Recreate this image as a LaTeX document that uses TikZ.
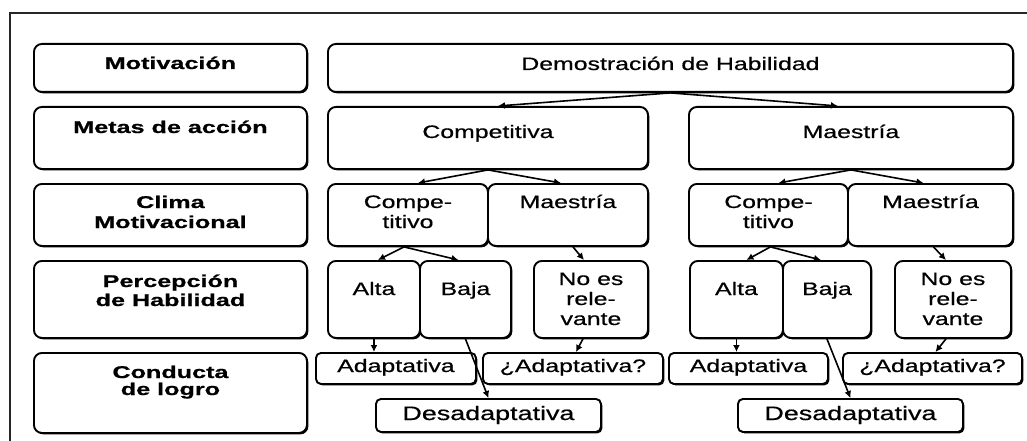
\documentclass[tikz,border=0pt]{standalone}
\usepackage{fontspec}
\setmainfont{Liberation Sans}[FakeStretch=1.38,FakeBold=0.6]
\newfontfamily\labfont{Liberation Sans}[FakeStretch=1.48,FakeBold=0.8]
\usetikzlibrary{shadows,arrows.meta}
\tikzset{
  box/.style={draw=black,fill=white,line width=1.9pt,rounded corners=8pt,inner sep=0pt,
    drop shadow={shadow xshift=1.4pt,shadow yshift=-1.4pt,opacity=1,fill=black}},
  sbox/.style={box,rounded corners=5pt},
  rt/.style={inner sep=0pt,anchor=base,font=\fontsize{18}{20}\selectfont},
  dt/.style={rt,font=\fontsize{19.5}{21}\selectfont},
  lt/.style={inner sep=0pt,anchor=base,font=\labfont\bfseries\fontsize{17}{19}\selectfont},
  arr/.style={line width=1.6pt,-{Latex[length=7pt,width=7pt]}},
  frame/.style={line width=1.8pt,draw=black!85}
}
\newcommand\bx[6]{\node[#6,anchor=north west,minimum width=#4pt-#2pt,minimum height=#5pt-#3pt] (#1) at (#2,#3) {};}
\begin{document}
\begin{tikzpicture}[x=1pt,y=-1pt]
\useasboundingbox (0,0) rectangle (1027,441);
\coordinate (f1) at (10,441);
\coordinate (f2) at (10,13);
\coordinate (f3) at (1030,13);
\draw[frame] (f1) -- (f2) -- (f3);
% row 1
\bx{mot}{33}{43}{306}{91}{box}
\bx{dem}{327}{43}{1012}{91}{box}
% row 2
\bx{met}{33}{106}{306}{168}{box}
\bx{comp}{327}{106}{647}{168}{box}
\bx{maes}{688}{106}{1012}{168}{box}
% row 3
\bx{cli}{33}{183}{306}{245}{box}
\bx{c1}{327}{183}{487}{245}{box}
\bx{m1}{487}{183}{647}{245}{box}
\bx{c2}{688}{183}{847}{245}{box}
\bx{m2}{847}{183}{1012}{245}{box}
% row 4
\bx{per}{33}{260}{306}{337}{box}
\bx{a1}{327}{260}{419}{337}{box}
\bx{b1}{419}{260}{510}{337}{box}
\bx{n1}{533}{260}{647}{337}{box}
\bx{a2}{689}{260}{782}{337}{box}
\bx{b2}{782}{260}{870}{337}{box}
\bx{n2}{894}{260}{1010}{337}{box}
% row 5
\bx{con}{33}{352}{306}{432}{box}
\bx{ad1}{315}{352}{475}{383}{sbox}
\bx{q1}{482}{352}{662}{383}{sbox}
\bx{ad2}{668}{352}{827}{383}{sbox}
\bx{q2}{842}{352}{1021}{383}{sbox}
\bx{d1}{375}{398}{600}{431}{sbox}
\bx{d2}{737}{398}{962}{431}{sbox}
% texts
\node[lt] (tmot) at (mot.center |- 0,69) {Motivación};
\node[rt] (tdem) at (dem.center |- 0,70) {Demostración de Habilidad};
\node[lt] (tmet) at (met.center |- 0,133) {Metas de acción};
\node[rt] (tcomp) at (comp.center |- 0,138) {Competitiva};
\node[rt] (tmaes) at (maes.center |- 0,138) {Maestría};
\node[lt] (tcli1) at (cli.center |- 0,208) {Clima};
\node[lt] (tcli2) at (cli.center |- 0,228) {Motivacional};
\node[rt] (tc1a) at (c1.center |- 0,208) {Compe-};
\node[rt] (tc1b) at (c1.center |- 0,228) {titivo};
\node[rt] (tm1) at (m1.center |- 0,208) {Maestría};
\node[rt] (tc2a) at (c2.center |- 0,208) {Compe-};
\node[rt] (tc2b) at (c2.center |- 0,228) {titivo};
\node[rt] (tm2) at (m2.center |- 0,208) {Maestría};
\node[lt] (tper1) at (per.center |- 0,287) {Percepción};
\node[lt] (tper2) at (per.center |- 0,306) {de Habilidad};
\node[rt] (ta1) at (a1.center |- 0,295) {Alta};
\node[rt] (tb1) at (b1.center |- 0,295) {Baja};
\node[rt] (tn1a) at (n1.center |- 0,285) {No es};
\node[rt] (tn1b) at (n1.center |- 0,305) {rele-};
\node[rt] (tn1c) at (n1.center |- 0,325) {vante};
\node[rt] (ta2) at (a2.center |- 0,295) {Alta};
\node[rt] (tb2) at (b2.center |- 0,295) {Baja};
\node[rt] (tn2a) at (n2.center |- 0,285) {No es};
\node[rt] (tn2b) at (n2.center |- 0,305) {rele-};
\node[rt] (tn2c) at (n2.center |- 0,325) {vante};
\node[lt] (tcon1) at (con.center |- 0,378) {Conducta};
\node[lt] (tcon2) at (con.center |- 0,395) {de logro};
\node[rt] (tad1) at (ad1.center |- 0,372) {Adaptativa};
\node[rt] (tq1) at (q1.center |- 0,372) {¿Adaptativa?};
\node[rt] (tad2) at (ad2.center |- 0,372) {Adaptativa};
\node[rt] (tq2) at (q2.center |- 0,372) {¿Adaptativa?};
\node[dt] (td1) at (d1.center |- 0,420) {Desadaptativa};
\node[dt] (td2) at (d2.center |- 0,420) {Desadaptativa};
% arrows
\draw[arr] (dem.south) -- ([xshift=10pt]comp.north);
\draw[arr] (dem.south) -- ([xshift=-13pt]maes.north);
\draw[arr] (comp.south) -- ([xshift=10pt]c1.north);
\draw[arr] (comp.south) -- ([xshift=-7pt]m1.north);
\draw[arr] (maes.south) -- ([xshift=10pt]c2.north);
\draw[arr] (maes.south) -- ([xshift=-7pt]m2.north);
\draw[arr] ([xshift=-4pt]c1.south) -- ([xshift=4pt]a1.north);
\draw[arr] ([xshift=-4pt]c1.south) -- ([xshift=-7pt]b1.north);
\draw[arr] ([xshift=5pt]m1.south) -- ([xshift=-7pt]n1.north);
\draw[arr] ([xshift=2pt]c2.south) -- ([xshift=10pt]a2.north);
\draw[arr] ([xshift=2pt]c2.south) -- ([xshift=-6pt]b2.north);
\draw[arr] ([xshift=3pt]m2.south) -- ([xshift=-7pt]n2.north);
\draw[arr] (a1.south) -- (a1.south |- ad1.north);
\draw[arr] (b1.south) -- (d1.north);
\draw[arr] ([xshift=-8pt]n1.south) -- ([xshift=3pt]q1.north);
\draw[arr] (a2.south) -- (a2.south |- ad2.north);
\draw[arr] (b2.south) -- (d2.north);
\draw[arr] ([xshift=-7pt]n2.south) -- ([xshift=3pt]q2.north);
\end{tikzpicture}
\end{document}
